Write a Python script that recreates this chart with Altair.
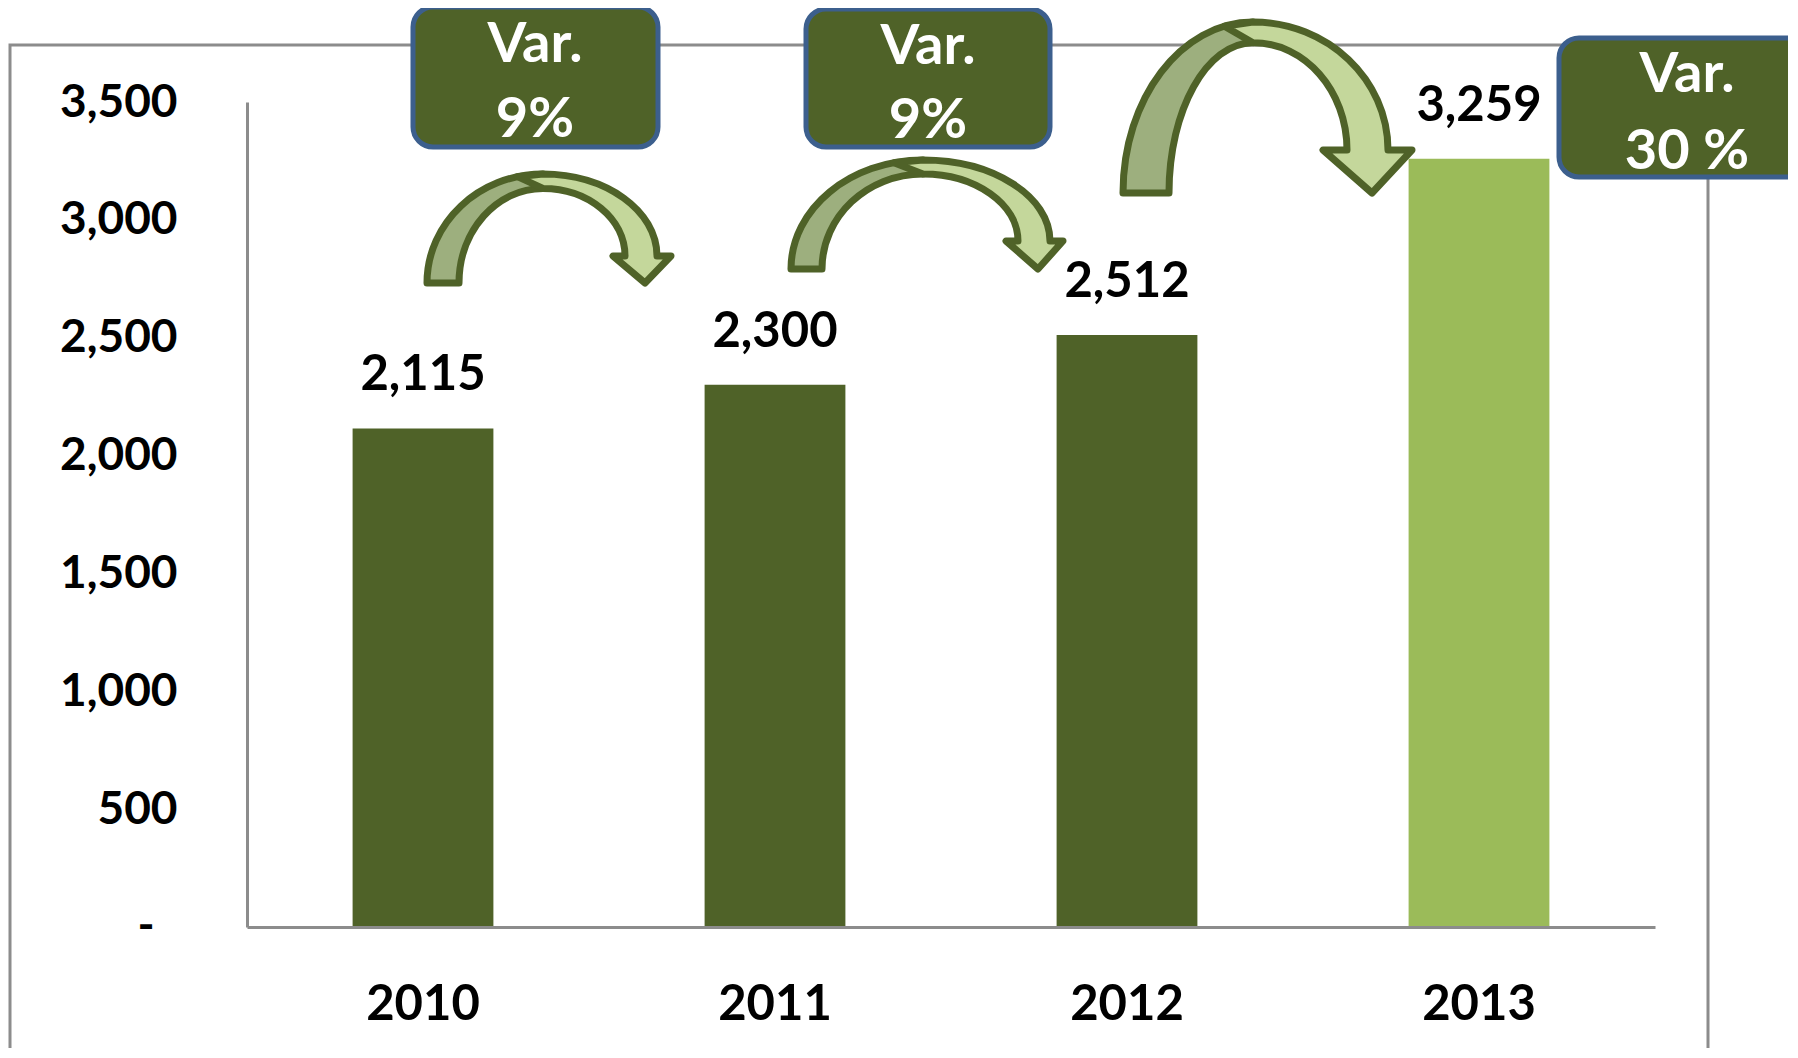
import math
import altair as alt
import pandas as pd

# ---------------- data ----------------
years = ["2010", "2011", "2012", "2013"]
values = [2115, 2300, 2512, 3259]
y_ticks = [0, 500, 1000, 1500, 2000, 2500, 3000, 3500]
zero_label = "-"
var_titles = ["Var.", "Var.", "Var."]
var_values = ["9%", "9%", "30 %"]

# ---------------- styles / layout ----------------
DARK = "#4F6228"
LIGHT = "#9BBB59"
ARROW_BACK = "#9DAF7E"
ARROW_FRONT = "#C4D79B"
BOX_STROKE = "#3C5F8D"
GRAY = "#8C8C8C"
FONT = "Lato"

W, H = 1408, 825          # plot area
OX, OY = 247, 102         # page position of plot origin


def px(x):
    return x - OX


def py(y):
    return y - OY


df = pd.DataFrame({"year": years, "value": values})
one = pd.DataFrame({"k": [0]})

# outer frame
frame = alt.Chart(one).mark_rect(
    fill="white", fillOpacity=0, stroke=GRAY, strokeWidth=3
).encode(
    x=alt.value(px(10)), x2=alt.value(px(1708)),
    y=alt.value(py(45)), y2=alt.value(py(1200)),
)

x_enc = alt.X(
    "year:N", sort=years,
    scale=alt.Scale(paddingInner=0.6, paddingOuter=0.3),
    axis=alt.Axis(
        title=None, labelAngle=0, ticks=False, tickSize=0, grid=False,
        domainColor=GRAY, domainWidth=3, labelFont=FONT, labelFontSize=49,
        labelFontWeight="bold", labelColor="black", labelPadding=53, zindex=1,
    ),
)
y_enc = alt.Y(
    "value:Q",
    scale=alt.Scale(domain=[0, 3500], nice=False, zero=True),
    axis=alt.Axis(
        title=None, values=y_ticks, ticks=False, tickSize=0, grid=False,
        domainColor=GRAY, domainWidth=3, labelFont=FONT, labelFontSize=46,
        labelFontWeight="bold", labelColor="black", labelPadding=70,
        labelOverlap=False,
        labelExpr="datum.value == 0 ? '' : format(datum.value, ',')",
    ),
)

bars = alt.Chart(df).mark_bar().encode(
    x=x_enc, y=y_enc,
    color=alt.Color("year:N", scale=alt.Scale(domain=years, range=[DARK, DARK, DARK, LIGHT]), legend=None),
)

labels = alt.Chart(df).mark_text(
    font=FONT, fontSize=49, fontWeight="bold", color="black", baseline="alphabetic", dy=-38
).encode(
    x=alt.X("year:N", sort=years),
    y=alt.Y("value:Q"),
    text=alt.Text("value:Q", format=","),
)

# the "-" shown for zero on the value axis (accounting style, set in from the other labels)
zero_tick = alt.Chart(pd.DataFrame({"v": [y_ticks[0]], "t": [zero_label]})).mark_text(
    font=FONT, fontSize=46, fontWeight="bold", color="black", align="center", baseline="middle"
).encode(
    x=alt.value(px(146)),
    y=alt.Y("v:Q"),
    text="t:N",
)

# ---------------- curved arrows (decoration shapes) ----------------
K = 0.5523


def arrow_shapes(AW, AH, wf, cx, yb, hx0, hx1, tip, xi, xo):
    s = max(AW, AH) / 2.0

    def P(x, y):
        return f"{(x - AW / 2) / s:.4f},{(y - AH / 2) / s:.4f}"

    ti = wf * 0.45
    back = (
        f"M{P(0, AH)} C{P(0, AH - K * AH)} {P(cx - K * cx, 0)} {P(cx, 0)} "
        f"L{P(cx, ti)} C{P(cx + K * (wf - cx), ti)} {P(wf, AH + K * (ti - AH))} {P(wf, AH)} Z"
    )
    d = 0.22 * cx
    ys = AH - AH * math.sqrt(1 - (d / cx) ** 2)
    front = (
        f"M{P(cx - d, ys)} L{P(cx, 0)} C{P(cx + K * (xo - cx), 0)} {P(xo, yb - K * yb)} {P(xo, yb)} "
        f"L{P(hx1, yb)} L{P(tip, AH)} L{P(hx0, yb)} L{P(xi, yb)} "
        f"C{P(xi, yb + K * (ti - yb))} {P(cx + K * (xi - cx), ti)} {P(cx, ti)} Z"
    )
    return back, front, max(AW, AH) ** 2


# (page bbox left, top, right, bottom, foot width, top x, head base y, head x0, x1, tip x, shaft xi, xo)
arrow_specs = [
    (427, 174, 671, 283, 32, 116, 82, 186, 244, 218, 198, 230),
    (791, 160, 1063, 269, 31, 132, 81, 215, 272, 247, 227, 259),
    (1123, 22, 1412, 193, 46, 130, 128, 200, 289, 249, 224, 265),
]

arrow_layers = []
for (l, t, r, b, wf, cx, yb, hx0, hx1, tip, xi, xo) in arrow_specs:
    AW, AH = r - l, b - t
    back, front, size = arrow_shapes(AW, AH, wf, cx, yb, hx0, hx1, tip, xi, xo)
    cxp, cyp = px((l + r) / 2), py((t + b) / 2)
    for path, col in ((back, ARROW_BACK), (front, ARROW_FRONT)):
        arrow_layers.append(
            alt.Chart(one).mark_point(
                shape=path, size=size, filled=True, fill=col, stroke=DARK,
                strokeWidth=7, strokeJoin="round", opacity=1, fillOpacity=1, strokeOpacity=1,
            ).encode(x=alt.value(cxp), y=alt.value(cyp))
        )

# ---------------- variation boxes ----------------
box_rects = [
    (413, 7, 658, 147),
    (806, 9, 1050, 147),
    (1559, 38, 1806, 177),
]
box_text_pos = [
    (535, 42, 117),
    (928, 44, 118),
    (1687, 72, 149),
]

box_layers = []
for (l, t, r, b) in box_rects:
    box_layers.append(
        alt.Chart(one).mark_rect(
            fill=DARK, stroke=BOX_STROKE, strokeWidth=5, cornerRadius=20
        ).encode(x=alt.value(px(l)), x2=alt.value(px(r)), y=alt.value(py(t)), y2=alt.value(py(b)))
    )

text_layers = []
for title, val, (tx, ty1, ty2) in zip(var_titles, var_values, box_text_pos):
    for txt, ty in ((title, ty1), (val, ty2)):
        text_layers.append(
            alt.Chart(pd.DataFrame({"t": [txt]})).mark_text(
                font=FONT, fontSize=56, fontWeight="bold", color="white",
                align="center", baseline="middle",
            ).encode(text="t:N", x=alt.value(px(tx)), y=alt.value(py(ty) + 3))
        )

chart = alt.layer(
    frame, bars, labels, zero_tick, *arrow_layers, *box_layers, *text_layers
).properties(
    width=W, height=H,
    padding={"left": OX - 8, "top": OY - 8, "right": 1782 - (OX - 8) - W - 2, "bottom": 1042 - (OY - 8) - H - 2},
    autosize=alt.AutoSizeParams(type="none"),
    background="white",
).configure_view(stroke="transparent")

chart.save("out.html", embed_options={"renderer": "svg", "actions": False})
